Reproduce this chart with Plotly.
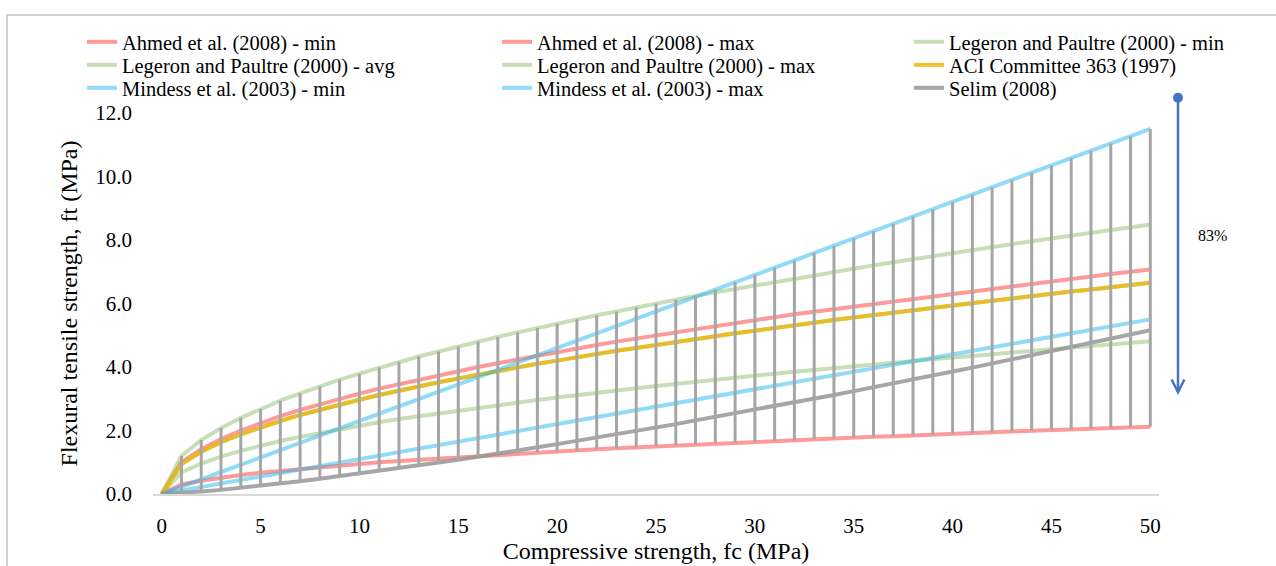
import plotly.graph_objects as go

# ---------------- data ----------------
fc = list(range(0, 51))

ahmed_min = [0, 0.30, 0.42, 0.52, 0.60, 0.67, 0.73, 0.79, 0.85, 0.90, 0.95, 1.00, 1.04, 1.08, 1.12,
             1.16, 1.20, 1.24, 1.27, 1.31, 1.34, 1.37, 1.41, 1.44, 1.47, 1.50, 1.53, 1.56, 1.59, 1.62,
             1.64, 1.67, 1.70, 1.72, 1.75, 1.77, 1.80, 1.82, 1.85, 1.87, 1.90, 1.92, 1.94, 1.97, 1.99,
             2.01, 2.03, 2.06, 2.08, 2.10, 2.12]
ahmed_max = [0, 1.00, 1.41, 1.73, 2.00, 2.24, 2.45, 2.65, 2.83, 3.00, 3.16, 3.32, 3.46, 3.61, 3.74,
             3.87, 4.00, 4.12, 4.24, 4.36, 4.47, 4.58, 4.69, 4.80, 4.90, 5.00, 5.10, 5.20, 5.29, 5.39,
             5.48, 5.57, 5.66, 5.74, 5.83, 5.92, 6.00, 6.08, 6.16, 6.24, 6.32, 6.40, 6.48, 6.56, 6.63,
             6.71, 6.78, 6.86, 6.93, 7.00, 7.07]
legeron_min = [0, 0.68, 0.96, 1.18, 1.36, 1.52, 1.67, 1.80, 1.92, 2.04, 2.15, 2.26, 2.36, 2.45, 2.54,
               2.63, 2.72, 2.80, 2.89, 2.96, 3.04, 3.12, 3.19, 3.26, 3.33, 3.40, 3.47, 3.53, 3.60, 3.66,
               3.72, 3.79, 3.85, 3.91, 3.97, 4.02, 4.08, 4.14, 4.19, 4.25, 4.30, 4.35, 4.41, 4.46, 4.51,
               4.56, 4.61, 4.66, 4.71, 4.76, 4.81]
legeron_avg = [0, 0.94, 1.33, 1.63, 1.88, 2.10, 2.30, 2.49, 2.66, 2.82, 2.97, 3.12, 3.26, 3.39, 3.52,
               3.64, 3.76, 3.88, 3.99, 4.10, 4.20, 4.31, 4.41, 4.51, 4.60, 4.70, 4.79, 4.88, 4.97, 5.06,
               5.15, 5.23, 5.32, 5.40, 5.48, 5.56, 5.64, 5.72, 5.79, 5.87, 5.95, 6.02, 6.09, 6.16, 6.24,
               6.31, 6.38, 6.44, 6.51, 6.58, 6.65]
legeron_max = [0, 1.20, 1.70, 2.08, 2.40, 2.68, 2.94, 3.17, 3.39, 3.60, 3.79, 3.98, 4.16, 4.33, 4.49,
               4.65, 4.80, 4.95, 5.09, 5.23, 5.37, 5.50, 5.63, 5.75, 5.88, 6.00, 6.12, 6.24, 6.35, 6.46,
               6.57, 6.68, 6.79, 6.89, 7.00, 7.10, 7.20, 7.30, 7.40, 7.49, 7.59, 7.68, 7.78, 7.87, 7.96,
               8.05, 8.14, 8.23, 8.31, 8.40, 8.49]
aci_363 = [0, 0.94, 1.33, 1.63, 1.88, 2.10, 2.30, 2.49, 2.66, 2.82, 2.97, 3.12, 3.26, 3.39, 3.52,
           3.64, 3.76, 3.88, 3.99, 4.10, 4.20, 4.31, 4.41, 4.51, 4.60, 4.70, 4.79, 4.88, 4.97, 5.06,
           5.15, 5.23, 5.32, 5.40, 5.48, 5.56, 5.64, 5.72, 5.79, 5.87, 5.95, 6.02, 6.09, 6.16, 6.24,
           6.31, 6.38, 6.44, 6.51, 6.58, 6.65]
mindess_min = [0, 0.11, 0.22, 0.33, 0.44, 0.55, 0.66, 0.77, 0.88, 0.99, 1.10, 1.21, 1.32, 1.43, 1.54,
               1.65, 1.76, 1.87, 1.98, 2.09, 2.20, 2.31, 2.42, 2.53, 2.64, 2.75, 2.86, 2.97, 3.08, 3.19,
               3.30, 3.41, 3.52, 3.63, 3.74, 3.85, 3.96, 4.07, 4.18, 4.29, 4.40, 4.51, 4.62, 4.73, 4.84,
               4.95, 5.06, 5.17, 5.28, 5.39, 5.50]
mindess_max = [0, 0.23, 0.46, 0.69, 0.92, 1.15, 1.38, 1.61, 1.84, 2.07, 2.30, 2.53, 2.76, 2.99, 3.22,
               3.45, 3.68, 3.91, 4.14, 4.37, 4.60, 4.83, 5.06, 5.29, 5.52, 5.75, 5.98, 6.21, 6.44, 6.67,
               6.90, 7.13, 7.36, 7.59, 7.82, 8.05, 8.28, 8.51, 8.74, 8.97, 9.20, 9.43, 9.66, 9.89, 10.12,
               10.35, 10.58, 10.81, 11.04, 11.27, 11.50]
selim = [0, 0.03, 0.08, 0.13, 0.19, 0.26, 0.33, 0.40, 0.48, 0.56, 0.64, 0.72, 0.81, 0.90, 0.99,
         1.08, 1.17, 1.27, 1.37, 1.47, 1.57, 1.67, 1.77, 1.88, 1.99, 2.10, 2.20, 2.32, 2.43, 2.54,
         2.66, 2.77, 2.89, 3.01, 3.12, 3.24, 3.37, 3.49, 3.61, 3.74, 3.86, 3.98, 4.11, 4.24, 4.37,
         4.50, 4.63, 4.76, 4.89, 5.02, 5.16]

series_names = ["Ahmed et al. (2008) - min", "Ahmed et al. (2008) - max",
                "Legeron and Paultre (2000) - min", "Legeron and Paultre (2000) - avg",
                "Legeron and Paultre (2000) - max", "ACI Committee 363 (1997)",
                "Mindess et al. (2003) - min", "Mindess et al. (2003) - max", "Selim (2008)"]
series_values = [ahmed_min, ahmed_max, legeron_min, legeron_avg, legeron_max,
                 aci_363, mindess_min, mindess_max, selim]

x_ticks = [0, 5, 10, 15, 20, 25, 30, 35, 40, 45, 50]
y_ticks = [0, 2, 4, 6, 8, 10, 12]
range_label = "83%"

# ---------------- styling ----------------
W, H = 1276, 566
L, R, T, B = 153, 117, 113, 72
PW, PH = W - L - R, H - T - B
FONT = "Liberation Serif"

def px_x(px):
    return (px - L) / PW

def px_y(py):
    return (H - B - py) / PH

colors = ["rgba(255,40,40,0.47)", "rgba(255,40,40,0.47)",
          "rgba(120,178,80,0.42)", "rgba(120,178,80,0.42)", "rgba(120,178,80,0.42)",
          "rgba(236,186,20,0.88)",
          "rgba(20,180,240,0.47)", "rgba(20,180,240,0.47)",
          "rgba(150,150,150,0.85)"]

# legend grid: 3 columns x 3 rows, one single-entry legend per cell
col_px = [82, 497, 909]
row_px = [42, 65, 88]

fig = go.Figure()
legend_layout = {}
for k, (name, vals, col) in enumerate(zip(series_names, series_values, colors)):
    lid = "legend" if k == 0 else f"legend{k + 1}"
    fig.add_trace(go.Scatter(x=fc, y=vals, mode="lines", name=name,
                             line=dict(color=col, width=4), legend=lid,
                             hoverinfo="skip"))
    legend_layout[lid] = dict(orientation="h", xanchor="left", yanchor="middle",
                              x=px_x(col_px[k % 3]), y=px_y(row_px[k // 3]),
                              bgcolor="rgba(0,0,0,0)", borderwidth=0,
                              font=dict(family=FONT, size=20.5, color="#000000"))

# high-low lines (min to max of all series at each fc)
hl_x, hl_y = [], []
for i, xv in enumerate(fc):
    col_vals = [s[i] for s in series_values]
    hl_x += [xv, xv, None]
    hl_y += [min(col_vals), max(col_vals), None]
fig.add_trace(go.Scatter(x=hl_x, y=hl_y, mode="lines", showlegend=False,
                         line=dict(color="#A6A6A6", width=3), hoverinfo="skip"))

fig.update_layout(
    width=W, height=H, autosize=False,
    margin=dict(l=L, r=R, t=T, b=B, pad=0, autoexpand=False),
    paper_bgcolor="white", plot_bgcolor="white",
    font=dict(family=FONT, color="#000000"),
    xaxis=dict(range=[-0.44, 50.44], tickvals=x_ticks, ticktext=[str(v) for v in x_ticks],
               showgrid=False, zeroline=False, showline=True, linecolor="#D9D9D9", linewidth=2,
               ticks="", automargin=False,
               tickfont=dict(family=FONT, size=21, color="#000000"),
               ticklabelstandoff=12,
               title=dict(text="Compressive strength, fc (MPa)",
                          font=dict(family=FONT, size=24, color="#000000"), standoff=4)),
    yaxis=dict(range=[0, 12], tickvals=y_ticks, ticktext=[f"{v:.1f}" for v in y_ticks],
               showgrid=False, zeroline=False, showline=False, ticks="", automargin=False,
               tickfont=dict(family=FONT, size=21, color="#000000"),
               ticklabelstandoff=20,
               title=dict(text="Flexural tensile strength, ft (MPa)",
                          font=dict(family=FONT, size=24, color="#000000"), standoff=10)),
    shapes=[dict(type="rect", xref="paper", yref="paper",
                 x0=px_x(7), x1=px_x(1300), y0=px_y(600), y1=px_y(15),
                 line=dict(color="#D0D0D0", width=2), fillcolor="rgba(0,0,0,0)", layer="below")],
    annotations=[
        dict(xref="paper", yref="y", x=px_x(1178), y=3.12,
             axref="pixel", ayref="y", ax=0, ay=12.53,
             text="", showarrow=True, arrowside="end+start",
             arrowhead=5, startarrowhead=6, arrowsize=1, startarrowsize=1,
             arrowwidth=2.5, arrowcolor="#4472C4", standoff=0, startstandoff=0),
        dict(xref="paper", yref="y", x=px_x(1212), y=8.13, text=range_label,
             xanchor="center", yanchor="middle",
             showarrow=False, font=dict(family=FONT, size=16, color="#000000")),
    ],
)
fig.update_layout(**legend_layout)

fig.write_html("out.html", config={"displayModeBar": False},
               post_script="document.body.style.margin='0px';")
